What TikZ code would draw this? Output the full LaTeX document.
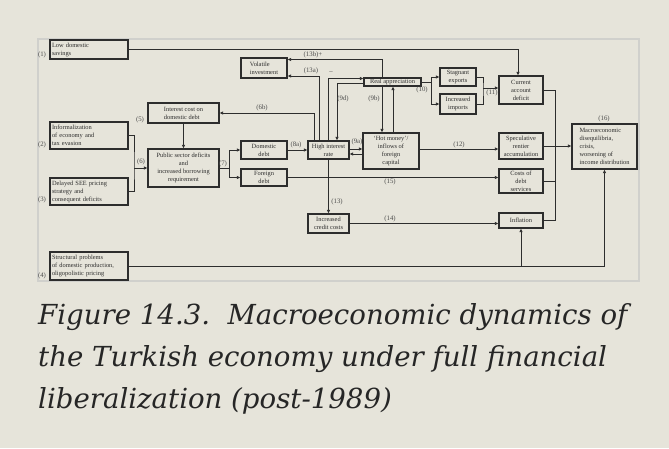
\documentclass[tikz,border=0pt]{standalone}
\usepackage{fontspec}
\setmainfont{Liberation Serif}
\newfontfamily\capfont{DejaVu Serif}
\usepackage{tikz}
\usetikzlibrary{shapes,arrows,arrows.meta,positioning}
\definecolor{tkPaper}{RGB}{230,228,218}
\definecolor{tkFrame}{RGB}{208,208,204}
\definecolor{tkInk}{RGB}{45,45,45}
\definecolor{tkLabel}{RGB}{75,75,75}

\tikzset{
  box/.style={draw=tkInk, line width=1.15pt, inner sep=0.8pt, text=tkInk,
    font=\fontsize{6.4}{8}\selectfont},
  cbox/.style={box, align=center},
  lbox/.style={box, align=left, text width=74pt, minimum width=78pt},
  num/.style={inner sep=0pt, text=tkLabel, font=\fontsize{6.8}{7}\selectfont},
  link/.style={draw=tkInk, line width=0.75pt},
  flow/.style={link, -{Latex[length=3.5pt,width=3.6pt]}},
  capline/.style={anchor=base west, inner sep=0pt, text=black!85,
    font=\capfont\itshape\fontsize{27.6}{30}\selectfont}
}

\begin{document}
\begin{tikzpicture}[x=1pt, y=-1pt]
  \path[use as bounding box, fill=tkPaper] (0,0) rectangle (669,448);
  \draw[tkFrame, line width=2pt] (38,39) rectangle (639,281);

  % left column: causes
  \node[lbox, minimum height=19pt] (sav) at (89,49.5) {Low domestic\\savings};
  \node[lbox, minimum height=27pt] (inf) at (89,135.5) {Informalization\\of economy and\\tax evasion};
  \node[lbox, minimum height=27pt] (see) at (89,191.5) {Delayed SEE pricing\\strategy and\\consequent deficits};
  \node[lbox, minimum height=28pt] (str) at (89,266) {Structural problems\\of domestic production,\\oligopolistic pricing};
  \node[num] (n1) at (42,55) {(1)};
  \node[num] (n2) at (42,145) {(2)};
  \node[num] (n3) at (42,200) {(3)};
  \node[num] (n4) at (42,276) {(4)};

  % public finance
  \node[cbox, align=left, minimum width=71pt, minimum height=20pt] (icost) at (183.5,113) {Interest cost on\\domestic debt};
  \node[cbox, minimum width=71pt, minimum height=38pt] (psd) at (183.5,168) {Public sector deficits\\and\\increased borrowing\\requirement};
  \node[cbox, align=left, minimum width=46pt, minimum height=20pt] (vol) at (264,68) {Volatile\\investment};
  \node[cbox, minimum width=46pt, minimum height=18pt] (ddebt) at (264,150) {Domestic\\debt};
  \node[cbox, minimum width=46pt, minimum height=17pt] (fdebt) at (264,177.5) {Foreign\\debt};

  % financial block
  \node[cbox, minimum width=41pt, minimum height=18pt, inner sep=0pt] (high) at (328.5,150) {High interest\\rate};
  \node[cbox, minimum width=41pt, minimum height=19pt] (ccost) at (328.5,223.5) {Increased\\credit costs};
  \node[cbox, minimum width=57pt, minimum height=8pt, inner sep=0pt] (real) at (392.5,82) {Real appreciation};
  \node[cbox, minimum width=56pt, minimum height=36pt] (hot) at (391,151) {‘Hot money’/\\inflows of\\foreign\\capital};

  % external and outcomes
  \node[cbox, minimum width=36pt, minimum height=18pt] (exp) at (458,77) {Stagnant\\exports};
  \node[cbox, minimum width=36pt, minimum height=20pt] (imp) at (458,104) {Increased\\imports};
  \node[cbox, minimum width=44pt, minimum height=28pt] (cad) at (521,90) {Current\\account\\deficit};
  \node[cbox, minimum width=44pt, minimum height=26pt] (spec) at (521,146) {Speculative\\rentier\\accumulation};
  \node[cbox, minimum width=44pt, minimum height=24pt] (cds) at (521,181) {Costs of\\debt\\services};
  \node[cbox, minimum width=44pt, minimum height=15pt] (infl) at (521,220.5) {Inflation};
  \node[cbox, align=left, minimum width=65pt, minimum height=45pt] (macro) at (604.5,146.5) {Macroeconomic\\disequilibria,\\crisis,\\worsening of\\income distribution};

  % junctions
  \coordinate (j6) at (134,168);
  \coordinate (j7) at (229,168);
  \coordinate (j10) at (431,82);
  \coordinate (j11) at (483,88);
  \coordinate (jc) at (555,146);
  \coordinate (js) at (infl.south |- str.east);

  % connectors
  \draw[flow] (sav.east) -| ([xshift=-3pt]cad.north);
  \draw[link] (inf.east) -| (j6) |- (see.east);
  \draw[flow] (j6) -- (psd.west);
  \draw[flow] (icost.south) -- (psd.north);
  \draw[link] (psd.east) -- (j7);
  \draw[flow] (j7) |- (ddebt.west);
  \draw[flow] (j7) |- (fdebt.west);
  \draw[flow] (ddebt.east) -- (high.west);
  \draw[flow] ([yshift=1pt]high.east) -- ([yshift=1pt]high.east -| hot.west);
  \draw[flow] ([yshift=-4pt]high.east -| hot.west) -- ([yshift=-4pt]high.east);
  \draw[flow] ([xshift=-14.5pt]high.north) |- (icost.east);
  \draw[flow] ([xshift=-9.5pt]high.north) |- ([yshift=-8pt]vol.east);
  \draw[flow] (high.north) |- ([yshift=3.5pt]real.west);
  \draw[flow] ([yshift=-1pt]real.west) -| ([xshift=8.5pt]high.north);
  \draw[flow] ([xshift=-10.5pt]real.north) |- ([yshift=8.5pt]vol.east);
  \draw[flow] ([xshift=-10.5pt]real.south) -- ([xshift=-10.5pt]real.south |- hot.north);
  \draw[flow] ([xshift=2pt]hot.north) -- ([xshift=2pt]hot.north |- real.south);
  \draw[link] (real.east) -- (j10);
  \draw[flow] (j10) |- (exp.west);
  \draw[flow] (j10) |- (imp.west);
  \draw[link] (exp.east) -| (j11) |- (imp.east);
  \draw[flow] (j11) -- (j11 -| cad.west);
  \draw[flow] ([yshift=2pt]hot.east) -- ([yshift=2pt]hot.east -| spec.west);
  \draw[flow] (fdebt.east) -- (fdebt.east -| cds.west);
  \draw[flow] (high.south) -- (ccost.north);
  \draw[flow] (ccost.east) -- (ccost.east -| infl.west);
  \draw[link] (cad.east) -| (jc);
  \draw[link] (infl.east) -| (jc);
  \draw[link] (cds.east) -- (cds.east -| jc);
  \draw[flow] (spec.east) -- (spec.east -| macro.west);
  \draw[flow] (str.east) -| (macro.south);
  \draw[flow] (js) -- (infl.south);

  % link labels
  \node[num] (n5) at (140,120) {(5)};
  \node[num] (n6) at (141,162) {(6)};
  \node[num] (n6b) at (262,108) {(6b)};
  \node[num] (n7) at (223,164) {(7)};
  \node[num] (n8a) at (296,145) {(8a)};
  \node[num] (n9a) at (357,142) {(9a)};
  \node[num] (n9d) at (343,99) {(9d)};
  \node[num] (n9b) at (374,99) {(9b)};
  \node[num] (n10) at (422,90) {(10)};
  \node[num] (n11) at (492,93) {(11)};
  \node[num] (n12) at (459,145) {(12)};
  \node[num] (n13) at (337,202) {(13)};
  \node[num] (n13a) at (311,71) {(13a)};
  \node[num] (n13b) at (313,55) {(13b)+};
  \node[num] (nminus) at (331,73) {–};
  \node[num] (n14) at (390,219) {(14)};
  \node[num] (n15) at (390,182) {(15)};
  \node[num] (n16) at (604,119) {(16)};

  % caption
  \node[capline] (cap1) at (38,324) {Figure 14.3.\ \ Macroeconomic dynamics of};
  \node[capline] (cap2) at (38,366) {the Turkish economy under full financial};
  \node[capline] (cap3) at (38,408) {liberalization (post-1989)};
\end{tikzpicture}
\end{document}
